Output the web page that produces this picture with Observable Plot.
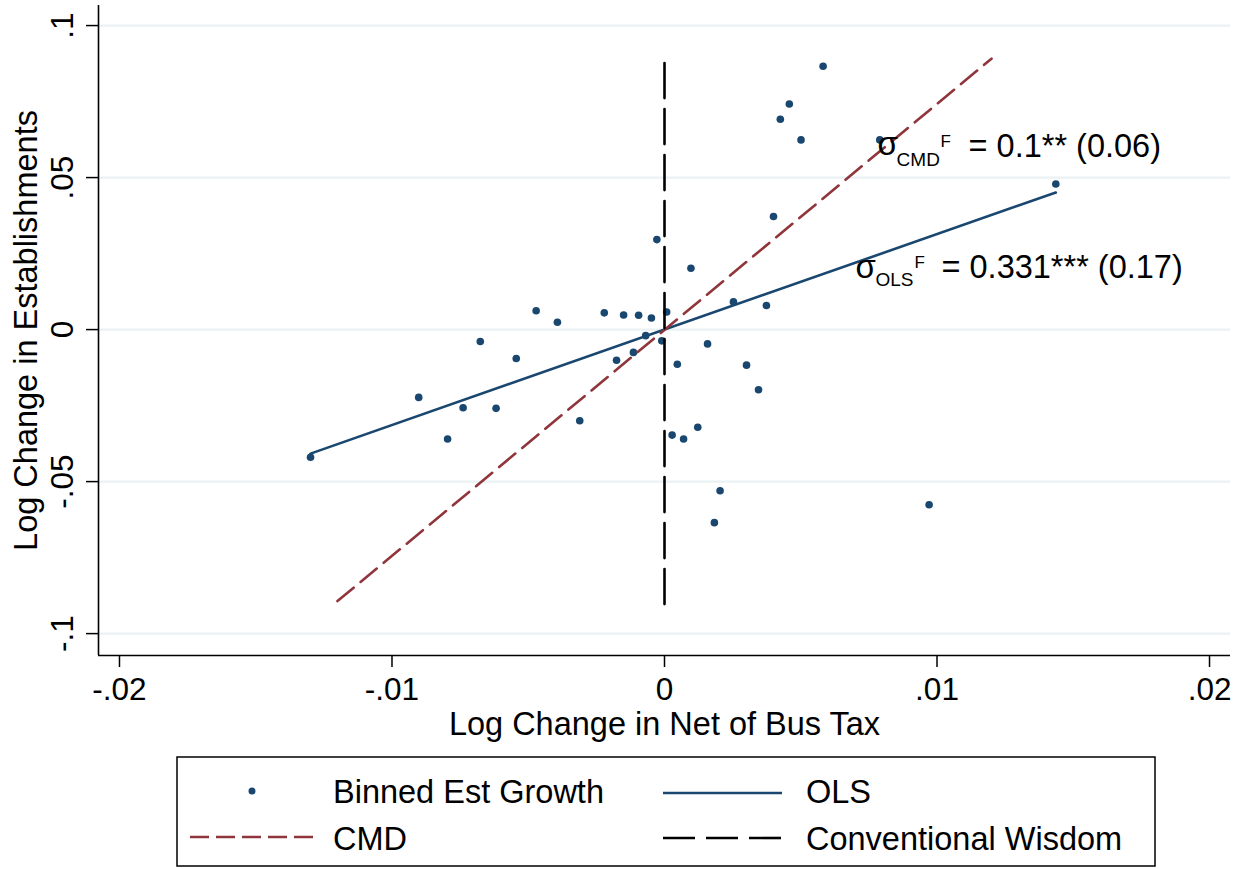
<!DOCTYPE html>
<html><head><meta charset="utf-8">
<script src="https://cdn.jsdelivr.net/npm/d3@7"></script>
<script src="https://cdn.jsdelivr.net/npm/@observablehq/plot@0.6"></script>
<style>
body{margin:0;background:#fff;font-family:"Liberation Sans",Arial,Helvetica,sans-serif;}
#wrap{position:relative;width:1243px;height:869px;background:#fff;}
#legend{position:absolute;left:0;top:750px;}
#legend text{font-family:"Liberation Sans",Arial,Helvetica,sans-serif;font-size:32.5px;fill:#000;}
</style></head><body>
<div id="wrap"><div id="chart"></div>
<svg id="legend" width="1243" height="119"></svg></div>
<script>
// Binned establishment growth (x: log change in net of bus tax, y: log change in establishments)
const binX = [-0.01299,-0.00902,-0.00796,-0.00739,-0.00676,-0.00618,-0.00544,-0.00471,-0.00393,-0.00311,-0.00221,-0.00176,-0.00150,-0.00114,-0.00095,-0.00069,-0.00048,-0.00028,-0.00010,0.00008,0.00028,0.00047,0.00070,0.00097,0.00122,0.00158,0.00183,0.00204,0.00253,0.00301,0.00345,0.00374,0.00400,0.00425,0.00458,0.00501,0.00582,0.00790,0.00971,0.01436];
const binY = [-0.0420,-0.0223,-0.0360,-0.0257,-0.0039,-0.0259,-0.0095,0.0062,0.0024,-0.0300,0.0055,-0.0101,0.0048,-0.0075,0.0047,-0.0020,0.0038,0.0296,-0.0037,0.0058,-0.0347,-0.0114,-0.0360,0.0202,-0.0321,-0.0047,-0.0635,-0.0530,0.0091,-0.0117,-0.0198,0.0079,0.0372,0.0692,0.0742,0.0624,0.0866,0.0624,-0.0576,0.0479];
// Fitted lines
const olsX = [-0.01299, 0.01436];
const olsY = [-0.0408, 0.0451];
const cmdX = [-0.0120, 0.0120];
const cmdY = [-0.0893, 0.0891];
const cwX = [0, 0];
const cwY = [-0.0903, 0.0897];
// Axes
const xTicks = [-0.02, -0.01, 0, 0.01, 0.02];
const xTickLabels = ["-.02", "-.01", "0", ".01", ".02"];
const yTicks = [-0.1, -0.05, 0, 0.05, 0.1];
const yTickLabels = ["-.1", "-.05", "0", ".05", ".1"];
const xTitle = "Log Change in Net of Bus Tax";
const yTitle = "Log Change in Establishments";
// Annotations
const annCMD = {x: 0.00782, y: 0.0569, sub: "CMD", sup: "F", value: "= 0.1** (0.06)"};
const annOLS = {x: 0.00701, y: 0.0171, sub: "OLS", sup: "F", value: "= 0.331*** (0.17)"};
// Legend
const legendLabels = ["Binned Est Growth", "OLS", "CMD", "Conventional Wisdom"];

const NAVY = "#1a476f", MAROON = "#90353b";
const font = "'Liberation Sans', Arial, Helvetica, sans-serif";
const pts = binX.map((x, i) => ({x, y: binY[i]}));
const ols = olsX.map((x, i) => ({x, y: olsY[i]}));
const cmd = cmdX.map((x, i) => ({x, y: cmdY[i]}));
const cw = cwX.map((x, i) => ({x, y: cwY[i]}));
const xMin = -0.02077, xMax = 0.02077, yMin = -0.1072, yMax = 0.1066;

function annMarks(a, o) {
  return [
    Plot.text([a], {x: "x", y: "y", text: () => "σ", textAnchor: "start", lineAnchor: "bottom", fontSize: 33, dy: o.sdy}),
    Plot.text([a], {x: "x", y: "y", text: "sub", textAnchor: "start", lineAnchor: "bottom", fontSize: 19, dx: o.subdx, dy: o.subdy}),
    Plot.text([a], {x: "x", y: "y", text: "sup", textAnchor: "start", lineAnchor: "bottom", fontSize: 17, dx: o.supdx, dy: -10}),
    Plot.text([a], {x: "x", y: "y", text: "value", textAnchor: "start", lineAnchor: "bottom", fontSize: 32.5, dx: o.vdx})
  ];
}

const chart = Plot.plot({
  width: 1243, height: 750,
  marginLeft: 98, marginRight: 13, marginTop: 5, marginBottom: 95,
  x: {domain: [xMin, xMax]},
  y: {domain: [yMin, yMax]},
  style: {fontFamily: font, fontSize: "31px", background: "white", color: "#000"},
  marks: [
    Plot.ruleY(yTicks, {stroke: "#eaf2f3", strokeWidth: 2.2}),
    Plot.dot(pts, {x: "x", y: "y", r: 3.8, fill: NAVY, stroke: "none"}),
    Plot.line(ols, {x: "x", y: "y", stroke: NAVY, strokeWidth: 2.6}),
    Plot.line(cmd, {x: "x", y: "y", stroke: MAROON, strokeWidth: 2.6, strokeDasharray: "21,9"}),
    Plot.line(cw, {x: "x", y: "y", stroke: "#000", strokeWidth: 2.6, strokeDasharray: "35,11"}),
    Plot.ruleX([xMin], {stroke: "#000", strokeWidth: 1.6}),
    Plot.ruleY([yMin], {stroke: "#000", strokeWidth: 1.6}),
    Plot.axisX(xTicks, {tickSize: 12, tickPadding: 10, tickFormat: d => xTickLabels[xTicks.indexOf(d)], label: null, fontSize: 31.5, strokeWidth: 1.5}),
    Plot.axisY(yTicks, {tickSize: 12, tickFormat: () => "", label: null, strokeWidth: 1.5}),
    Plot.text(yTicks, {y: d => d, text: d => yTickLabels[yTicks.indexOf(d)], frameAnchor: "left", rotate: -90, textAnchor: "middle", lineAnchor: "bottom", dx: -26, fontSize: 31.5}),
    Plot.text([yTitle], {frameAnchor: "left", rotate: -90, textAnchor: "middle", lineAnchor: "bottom", dx: -62, fontSize: 32.5}),
    Plot.text([xTitle], {frameAnchor: "bottom", lineAnchor: "bottom", dy: 79, fontSize: 32.5}),
    ...annMarks(annCMD, {sdy: -2, subdx: 19, subdy: 9, supdx: 63, vdx: 91}),
    ...annMarks(annOLS, {sdy: 0, subdx: 20, subdy: 8, supdx: 59, vdx: 86})
  ]
});
document.getElementById("chart").appendChild(chart);

// Legend box (below the plot)
const lg = d3.select("#legend");
lg.append("rect").attr("x", 177).attr("y", 7).attr("width", 978).attr("height", 109)
  .attr("fill", "#fff").attr("stroke", "#000").attr("stroke-width", 1.5);
lg.append("circle").attr("cx", 252).attr("cy", 41).attr("r", 3.5).attr("fill", NAVY);
lg.append("line").attr("x1", 663).attr("x2", 782).attr("y1", 43).attr("y2", 43).attr("stroke", NAVY).attr("stroke-width", 2.6);
lg.append("line").attr("x1", 190).attr("x2", 313).attr("y1", 87).attr("y2", 87).attr("stroke", MAROON).attr("stroke-width", 2.6).attr("stroke-dasharray", "19,7");
lg.append("line").attr("x1", 663).attr("x2", 782).attr("y1", 88).attr("y2", 88).attr("stroke", "#000").attr("stroke-width", 2.6).attr("stroke-dasharray", "32,11");
const pos = [[333, 53], [806, 53], [333, 100], [806, 100]];
legendLabels.forEach((t, i) => lg.append("text").attr("x", pos[i][0]).attr("y", pos[i][1]).text(t));
</script>
</body></html>
